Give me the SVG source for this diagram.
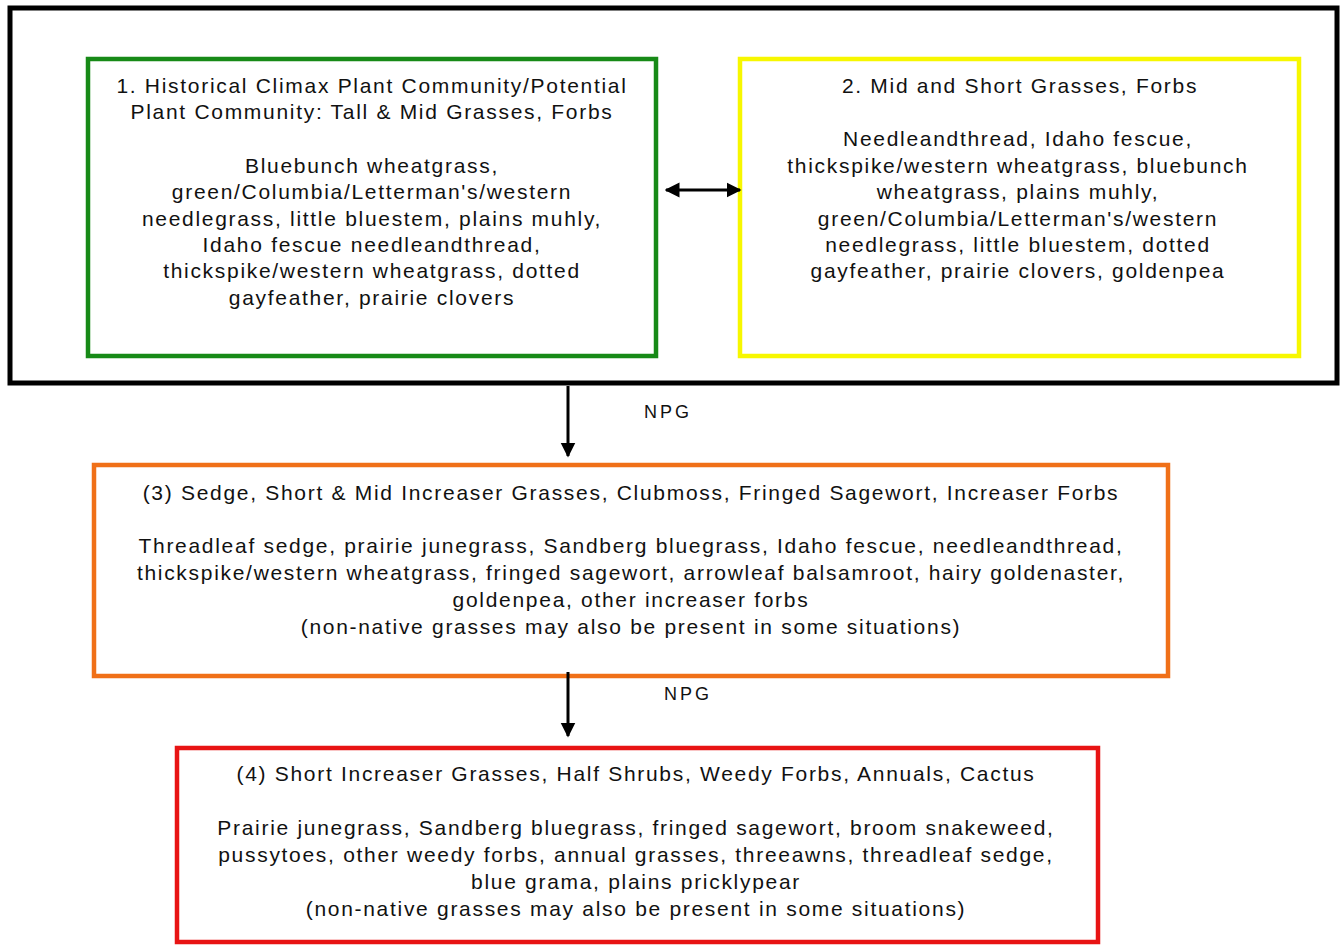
<svg xmlns="http://www.w3.org/2000/svg" width="1342" height="946" viewBox="0 0 1342 946">
<defs>
<style>
.t{font-family:"Liberation Sans",Arial,sans-serif;font-size:21px;letter-spacing:1.7px;fill:#111;text-anchor:middle}
.lbl{font-size:18px;letter-spacing:3px}
.box{fill:none;stroke-width:4.5}
.conn{stroke:#000;stroke-width:3;fill:none}
</style>
<marker id="ah" viewBox="0 0 10 10" refX="9" refY="5" markerWidth="5" markerHeight="6" orient="auto-start-reverse" markerUnits="strokeWidth">
<path d="M0,0 L10,5 L0,10 z" fill="#000"/>
</marker>
</defs>
<rect width="1342" height="946" fill="#fff"/>
<g id="outer">
<rect x="10" y="8" width="1327" height="375" fill="none" stroke="#000" stroke-width="5"/>
</g>
<g id="node1">
<rect class="box" x="88" y="59" width="568" height="297" stroke="#178a17"/>
<text class="t" x="372" y="93">1. Historical Climax Plant Community/Potential</text>
<text class="t" x="372" y="119">Plant Community: Tall &amp; Mid Grasses, Forbs</text>
<text class="t" x="372" y="173">Bluebunch wheatgrass,</text>
<text class="t" x="372" y="199">green/Columbia/Letterman's/western</text>
<text class="t" x="372" y="226">needlegrass, little bluestem, plains muhly,</text>
<text class="t" x="372" y="252">Idaho fescue needleandthread,</text>
<text class="t" x="372" y="278">thickspike/western wheatgrass, dotted</text>
<text class="t" x="372" y="305">gayfeather, prairie clovers</text>
</g>
<g id="node2">
<rect class="box" x="740" y="59" width="559" height="297" stroke="#f7f700"/>
<text class="t" x="1020" y="93">2.  Mid and Short Grasses, Forbs</text>
<text class="t" x="1018" y="146">Needleandthread, Idaho fescue,</text>
<text class="t" x="1018" y="173">thickspike/western wheatgrass, bluebunch</text>
<text class="t" x="1018" y="199">wheatgrass, plains muhly,</text>
<text class="t" x="1018" y="226">green/Columbia/Letterman's/western</text>
<text class="t" x="1018" y="252">needlegrass, little bluestem, dotted</text>
<text class="t" x="1018" y="278">gayfeather, prairie clovers, goldenpea</text>
</g>
<g id="node3">
<rect class="box" x="94" y="465" width="1074" height="211" stroke="#f07018"/>
<text class="t" x="631" y="500">(3) Sedge, Short &amp; Mid Increaser Grasses, Clubmoss, Fringed Sagewort, Increaser Forbs</text>
<text class="t" x="631" y="553">Threadleaf sedge, prairie junegrass, Sandberg bluegrass, Idaho fescue, needleandthread,</text>
<text class="t" x="631" y="580">thickspike/western wheatgrass, fringed sagewort, arrowleaf balsamroot, hairy goldenaster,</text>
<text class="t" x="631" y="607">goldenpea, other increaser forbs</text>
<text class="t" x="631" y="634">(non-native grasses may also be present in some situations)</text>
</g>
<g id="node4">
<rect class="box" x="177" y="748" width="921" height="194" stroke="#e81414"/>
<text class="t" x="636" y="781">(4)  Short Increaser Grasses, Half Shrubs, Weedy Forbs, Annuals, Cactus</text>
<text class="t" x="636" y="835">Prairie junegrass, Sandberg bluegrass, fringed sagewort, broom snakeweed,</text>
<text class="t" x="636" y="862">pussytoes, other weedy forbs, annual grasses, threeawns, threadleaf sedge,</text>
<text class="t" x="636" y="889">blue grama, plains pricklypear</text>
<text class="t" x="636" y="916">(non-native grasses may also be present in some situations)</text>
</g>
<g id="connectors">
<line class="conn" x1="666" y1="190" x2="740" y2="190" marker-start="url(#ah)" marker-end="url(#ah)"/>
<line class="conn" x1="568" y1="386" x2="568" y2="456" marker-end="url(#ah)"/>
<text class="t lbl" x="668" y="418">NPG</text>
<line class="conn" x1="568" y1="672" x2="568" y2="736" marker-end="url(#ah)"/>
<text class="t lbl" x="688" y="700">NPG</text>
</g>
</svg>
